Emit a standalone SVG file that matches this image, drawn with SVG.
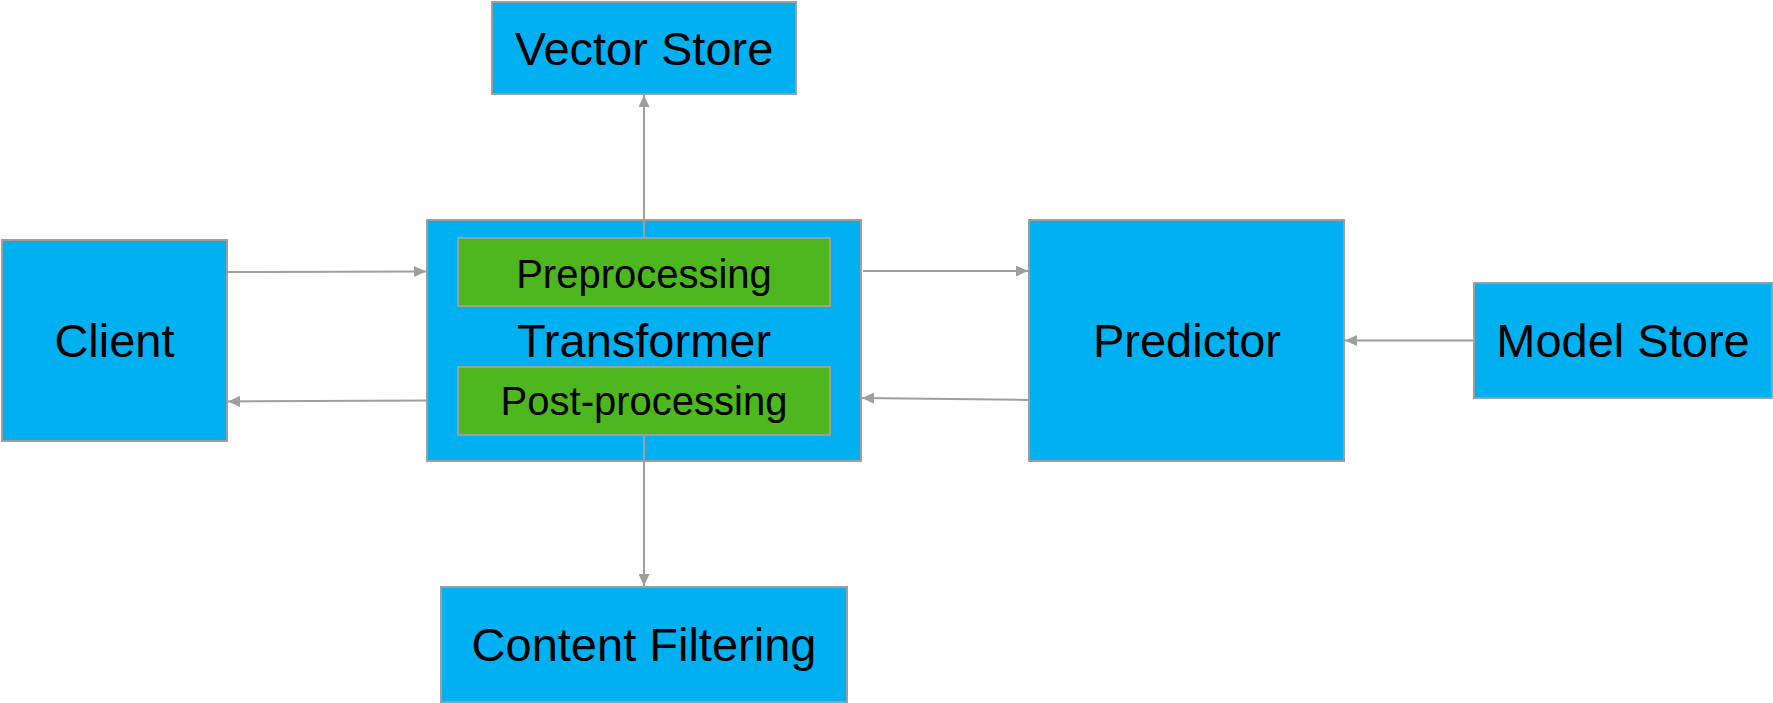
<svg xmlns="http://www.w3.org/2000/svg" width="1773" height="703" viewBox="0 0 1773 703">
  <style>
    .box { fill: #00b0f0; stroke: #9e9e9e; stroke-width: 2; }
    .sub { fill: #4eb61e; stroke: #9e9e9e; stroke-width: 2; }
    .lbl { font-family: "Liberation Sans", Arial, sans-serif; font-size: 47px; fill: #000; text-anchor: middle; }
    .sml { font-size: 40px; }
    .edge { stroke: #9e9e9e; stroke-width: 2; fill: none; marker-end: url(#arrow); }
    .plain { stroke: #9e9e9e; stroke-width: 2; fill: none; }
  </style>
  <defs>
    <marker id="arrow" markerWidth="12" markerHeight="11" refX="12" refY="5.5" orient="auto" markerUnits="userSpaceOnUse">
      <path d="M0,0 L12,5.5 L0,11 Z" fill="#9e9e9e"/>
    </marker>
  </defs>

  <!-- boxes -->
  <g id="vector-store">
    <rect class="box" x="492" y="2" width="304" height="92"/>
    <text class="lbl" x="644" y="65">Vector Store</text>
  </g>
  <g id="client">
    <rect class="box" x="2" y="240" width="225" height="201"/>
    <text class="lbl" x="114.5" y="357">Client</text>
  </g>
  <g id="transformer">
    <rect class="box" x="427" y="220" width="434" height="241"/>
    <text class="lbl" x="644" y="357">Transformer</text>
  </g>
  <g id="preprocessing">
    <rect class="sub" x="458" y="238" width="372" height="68"/>
    <text class="lbl sml" x="644" y="288">Preprocessing</text>
  </g>
  <g id="post-processing">
    <rect class="sub" x="458" y="367" width="372" height="68"/>
    <text class="lbl sml" x="644" y="415">Post-processing</text>
  </g>
  <g id="predictor">
    <rect class="box" x="1029" y="220" width="315" height="241"/>
    <text class="lbl" x="1187" y="357">Predictor</text>
  </g>
  <g id="model-store">
    <rect class="box" x="1474" y="283" width="298" height="115"/>
    <text class="lbl" x="1623" y="357">Model Store</text>
  </g>
  <g id="content-filtering">
    <rect class="box" x="441" y="587" width="406" height="115"/>
    <text class="lbl" x="644" y="661">Content Filtering</text>
  </g>

  <!-- connectors -->
  <g id="connectors">
    <line class="edge" x1="644" y1="238" x2="644" y2="95"/>
    <line class="edge" x1="644" y1="435" x2="644" y2="586"/>
    <line class="edge" x1="228" y1="272" x2="426" y2="271.5"/>
    <line class="edge" x1="427" y1="400.5" x2="228" y2="401.5"/>
    <line class="edge" x1="863" y1="271" x2="1028" y2="271"/>
    <line class="edge" x1="1029" y1="400" x2="862" y2="398"/>
    <line class="edge" x1="1474" y1="340.5" x2="1345" y2="340.5"/>
  </g>
</svg>
